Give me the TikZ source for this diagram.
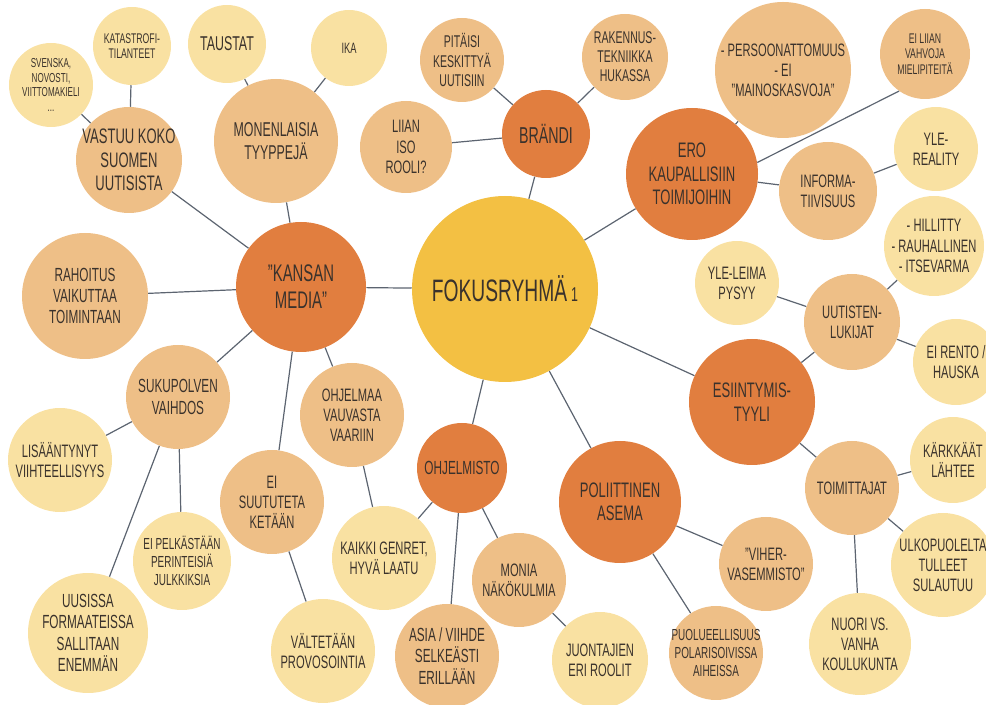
\documentclass[tikz,border=0pt]{standalone}
\usepackage{fontspec}
\setmainfont{Liberation Sans}[FakeStretch=0.62]
\definecolor{mainY}{HTML}{F3C043}
\definecolor{darkO}{HTML}{E17E3F}
\definecolor{medO}{HTML}{EEBF87}
\definecolor{lightY}{HTML}{F9E1A2}
\definecolor{ink}{HTML}{3A322C}
\definecolor{wire}{HTML}{5C6470}
% font size given in pixels of the final picture (1px = 0.75pt)
\newcommand\fsz[1]{\fontsize{\fpeval{0.75*#1}pt}{\fpeval{0.84*#1}pt}\selectfont}
\begin{document}
\begin{tikzpicture}[x=0.75pt,y=-0.75pt,
  bub/.style={circle, inner sep=0pt, minimum size=1.5pt*#1},
  mainb/.style={bub=#1, fill=mainY},
  dkb/.style={bub=#1, fill=darkO},
  mdb/.style={bub=#1, fill=medO},
  ltb/.style={bub=#1, fill=lightY},
  % text of a bubble, set in its centre without widening the circle
  tx/.style 2 args={label={[font=\fsz{#1}, align=center, text=ink, inner sep=0pt]center:{#2}}},
  conn/.style={draw=wire, line width=0.9pt}]
\useasboundingbox (0,0) rectangle (986,705);
\clip (0,0) rectangle (986,705);

% centre and first ring
\node[mainb=93, tx={31}{FOKUSRYHMÄ\hspace{3pt}{\fsz{20}1}}] (main) at (505,289) {};
\node[dkb=65, tx={24}{"KANSAN\\MEDIA"}] (kansan) at (301,287) {};
\node[dkb=44, tx={23}{BRÄNDI}] (brandi) at (546,134) {};
\node[dkb=66, tx={21}{ERO\\KAUPALLISIIN\\TOIMIJOIHIN}] (ero) at (692,174) {};
\node[dkb=63, tx={21}{ESIINTYMIS-\\TYYLI}] (esiin) at (752,402) {};
\node[dkb=45, tx={19}{OHJELMISTO}] (ohjel) at (462,468) {};
\node[dkb=61, tx={21}{POLIITTINEN\\ASEMA}] (polit) at (620,502) {};

% "kansan media" branch
\node[mdb=53, tx={21}{VASTUU KOKO\\SUOMEN\\UUTISISTA}] (vastuu) at (129,160) {};
\node[ltb=42, tx={13}{SVENSKA,\\NOVOSTI,\\VIITTOMAKIELI\\...}] (svenska) at (51,85) {};
\node[ltb=39, tx={14}{KATASTROFI-\\TILANTEET}] (katastrofi) at (132,46) {};
\node[ltb=39, tx={20}{TAUSTAT}] (taustat) at (227,44) {};
\node[ltb=38, tx={15}{IKA}] (ika) at (349,48) {};
\node[mdb=62, tx={20}{MONENLAISIA\\TYYPPEJÄ}] (monen) at (276,141) {};
\node[mdb=63, tx={19}{RAHOITUS\\VAIKUTTAA\\TOIMINTAAN}] (rahoitus) at (85,296) {};
\node[mdb=52, tx={19}{SUKUPOLVEN\\VAIHDOS}] (sukup) at (178,397) {};
\node[mdb=52, tx={18}{OHJELMAA\\VAUVASTA\\VAARIIN}] (ohjelmaa) at (352,415) {};
\node[ltb=52, tx={18}{LISÄÄNTYNYT\\VIIHTEELLISYYS}] (lisa) at (60,460) {};
\node[mdb=52, tx={18}{EI\\SUUTUTETA\\KETÄÄN}] (eisuut) at (272,502) {};
\node[ltb=49, tx={16}{EI PELKÄSTÄÄN\\PERINTEISIÄ\\JULKKIKSIA}] (eipelk) at (182,561) {};
\node[ltb=60, tx={19}{UUSISSA\\FORMAATEISSA\\SALLITAAN\\ENEMMÄN}] (uusissa) at (88,633) {};
\node[ltb=52, tx={18}{KAIKKI GENRET,\\HYVÄ LAATU}] (kaikki) at (384,558) {};
\node[ltb=52, tx={18}{VÄLTETÄÄN\\PROVOSOINTIA}] (valt) at (323,651) {};

% "ohjelmisto" and "poliittinen asema" branches
\node[mdb=52, tx={19}{ASIA / VIIHDE\\SELKEÄSTI\\ERILLÄÄN}] (asia) at (447,656) {};
\node[mdb=47, tx={18}{MONIA\\NÄKÖKULMIA}] (monia) at (519,580) {};
\node[ltb=48, tx={18}{JUONTAJIEN\\ERI ROOLIT}] (juont) at (600,660) {};
\node[mdb=47, tx={16}{PUOLUEELLISUUS\\POLARISOIVISSA\\AIHEISSA}] (puolue) at (716,653) {};
\node[mdb=47, tx={18}{"VIHER-\\VASEMMISTO"}] (viher) at (766,564) {};

% "esiintymistyyli" branch
\node[mdb=47, tx={18}{TOIMITTAJAT}] (toimitt) at (852,488) {};
\node[ltb=43, tx={18}{KÄRKKÄÄT\\LÄHTEE}] (karkk) at (953,460) {};
\node[ltb=52, tx={18}{ULKOPUOLELTA\\TULLEET\\SULAUTUU}] (ulko) at (943,565) {};
\node[ltb=51, tx={18}{NUORI VS.\\VANHA\\KOULUKUNTA}] (nuori) at (860,644) {};
\node[mdb=48, tx={18}{UUTISTEN-\\LUKIJAT}] (uutisten) at (852,322) {};
\node[ltb=42, tx={18}{YLE-LEIMA\\PYSYY}] (yleleima) at (737,283) {};
\node[ltb=50, tx={18}{- HILLITTY\\- RAUHALLINEN\\- ITSEVARMA}] (hillitty) at (934,246) {};
\node[ltb=43, tx={18}{EI RENTO /\\HAUSKA}] (eirento) at (956,362) {};

% "brändi" and "ero kaupallisiin" branches
\node[mdb=42, tx={17}{PITÄISI\\KESKITTYÄ\\UUTISIIN}] (pitaisi) at (462,60) {};
\node[mdb=43, tx={17}{RAKENNUS-\\TEKNIIKKA\\HUKASSA}] (rakennus) at (625,57) {};
\node[mdb=46, tx={18}{LIIAN\\ISO\\ROOLI?}] (liian) at (406,147) {};
\node[mdb=68, tx={18}{- PERSOONATTOMUUS\\- EI\\"MAINOSKASVOJA"}] (persoona) at (783,70) {};
\node[mdb=45, tx={14}{EI LIIAN\\VAHVOJA\\MIELIPITEITÄ}] (eiliian) at (925,54) {};
\node[mdb=49, tx={18}{INFORMA-\\TIIVISUUS}] (informa) at (828,191) {};
\node[ltb=42, tx={18}{YLE-\\REALITY}] (yler) at (936,149) {};

% connectors
\foreach \a/\b in {main/kansan, main/brandi, main/ero, main/esiin, main/ohjel, main/polit,
  kansan/vastuu, kansan/monen, kansan/rahoitus, kansan/sukup, kansan/eisuut, kansan/ohjelmaa,
  vastuu/svenska, vastuu/katastrofi, monen/taustat, monen/ika,
  sukup/lisa, sukup/uusissa, sukup/eipelk, eisuut/valt, ohjelmaa/kaikki,
  ohjel/kaikki, ohjel/asia, ohjel/monia, monia/juont,
  polit/viher, polit/puolue,
  brandi/pitaisi, brandi/rakennus, brandi/liian,
  ero/persoona, ero/informa, informa/yler,
  esiin/uutisten, esiin/toimitt,
  uutisten/yleleima, uutisten/hillitty, uutisten/eirento,
  toimitt/karkk, toimitt/ulko, toimitt/nuori}
  \draw[conn] (\a) -- (\b);
% this one runs from the right side of "ero" to the lower left of "eiliian",
% passing below the "persoona" bubble
\draw[conn] (ero.10) -- (eiliian.235);
\end{tikzpicture}
\end{document}
